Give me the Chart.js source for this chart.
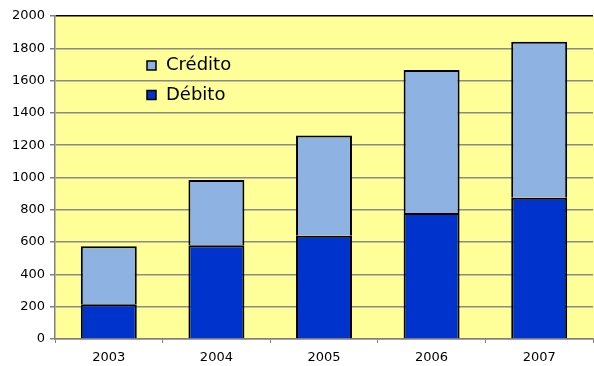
<!DOCTYPE html>
<html>
<head>
<meta charset="utf-8">
<title>Crédito y Débito</title>
<script src="https://cdn.jsdelivr.net/npm/chart.js@4/dist/chart.umd.min.js"></script>
<style>
  html, body { margin: 0; padding: 0; background: #fff; }
  #wrap { width: 594px; height: 366px; }
</style>
</head>
<body>
<div id="wrap"><canvas id="grafico" width="594" height="366"></canvas></div>
<script>
// valores por año (el crédito va apilado encima del débito)
const anios = ['2003', '2004', '2005', '2006', '2007'];
const debito = [215, 580, 640, 780, 875];
const credito = [360, 405, 620, 885, 965];
const etiquetas = ['Crédito', 'Débito'];

const AMARILLO = '#FFFF99';
const AZUL_CLARO = '#8EB3E2';
const AZUL = '#0033CC';

// fondo amarillo del area de trazado (hasta el borde derecho del lienzo)
const fondoPlot = {
  id: 'fondoPlot',
  beforeDraw(chart) {
    const { ctx, chartArea: a } = chart;
    ctx.save();
    ctx.fillStyle = AMARILLO;
    ctx.fillRect(a.left, a.top, chart.width - a.left, a.bottom - a.top);
    ctx.restore();
  }
};

// leyenda dentro del grafico, arriba a la izquierda
const leyendaInterna = {
  id: 'leyendaInterna',
  afterDraw(chart) {
    const { ctx, chartArea: a } = chart;
    const items = [
      { texto: etiquetas[0], color: AZUL_CLARO },
      { texto: etiquetas[1], color: AZUL }
    ];
    ctx.save();
    ctx.font = '18px "DejaVu Sans"';
    ctx.textBaseline = 'middle';
    items.forEach((it, i) => {
      const x = a.left + 92;
      const y = a.top + 45 + i * 29.5;
      ctx.fillStyle = it.color;
      ctx.fillRect(x, y, 9, 9);
      ctx.strokeStyle = '#000';
      ctx.lineWidth = 1.5;
      ctx.strokeRect(x, y, 9, 9);
      ctx.fillStyle = '#000';
      ctx.fillText(it.texto, x + 19, y + 4.5);
    });
    ctx.restore();
  }
};

new Chart(document.getElementById('grafico'), {
  type: 'bar',
  data: {
    labels: anios,
    datasets: [
      {
        label: etiquetas[1],
        data: debito,
        backgroundColor: AZUL,
        borderColor: '#000',
        borderWidth: 2
      },
      {
        label: etiquetas[0],
        data: credito,
        backgroundColor: AZUL_CLARO,
        borderColor: '#000',
        borderWidth: 2
      }
    ]
  },
  options: {
    responsive: false,
    animation: false,
    layout: { padding: { top: 16, right: 1, left: 0, bottom: 0 } },
    datasets: {
      bar: { categoryPercentage: 1, barPercentage: 0.52 }
    },
    plugins: {
      legend: { display: false },
      tooltip: { enabled: false }
    },
    scales: {
      x: {
        stacked: true,
        afterFit(scale) { scale.height = 27; },
        grid: {
          offset: true,
          drawOnChartArea: false,
          tickLength: 4,
          tickColor: '#808080'
        },
        border: { color: '#808080', width: 1.5 },
        ticks: {
          color: '#000',
          padding: 7,
          font: { family: 'DejaVu Sans', size: 13 }
        }
      },
      y: {
        stacked: true,
        min: 0,
        max: 2000,
        afterFit(scale) { scale.width = 55; },
        grid: {
          color: (c) => (c.tick && c.tick.value === 2000 ? '#000' : '#8a8a8a'),
          lineWidth: 1.5,
          tickLength: 5,
          tickColor: '#808080'
        },
        border: { color: '#808080', width: 1.5 },
        ticks: {
          stepSize: 200,
          color: '#000',
          padding: 5,
          font: { family: 'DejaVu Sans', size: 13 },
          callback: (v) => String(v)
        }
      }
    }
  },
  plugins: [fondoPlot, leyendaInterna]
});
</script>
</body>
</html>
